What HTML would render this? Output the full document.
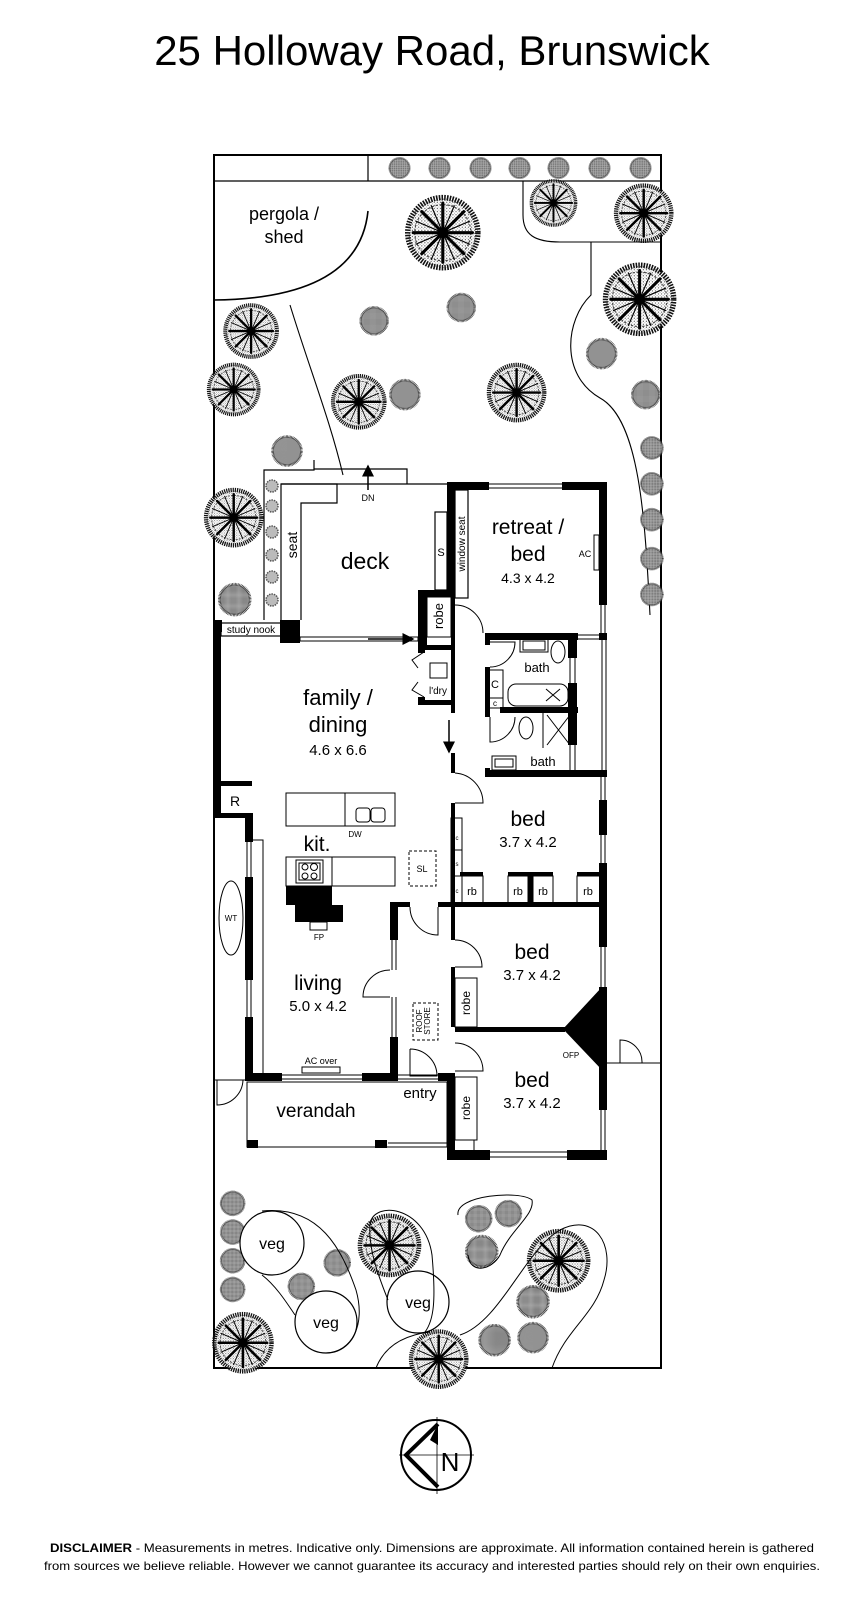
<!DOCTYPE html>
<html><head><meta charset="utf-8"><style>
html,body{margin:0;padding:0;background:#fff;}
svg{display:block;}
text{font-family:"Liberation Sans",Arial,sans-serif;fill:#000;}
</style></head><body>
<svg width="864" height="1600" viewBox="0 0 864 1600" xmlns="http://www.w3.org/2000/svg">
<defs>
<pattern id="dots" width="4" height="4" patternUnits="userSpaceOnUse"><rect width="4" height="4" fill="#fff"/><circle cx="1" cy="1" r="0.8" fill="#555"/><circle cx="3" cy="3" r="0.6" fill="#777"/></pattern>
<pattern id="dots2" width="3" height="3" patternUnits="userSpaceOnUse"><rect width="3" height="3" fill="#bbb"/><circle cx="1" cy="1" r="0.9" fill="#333"/></pattern>
<symbol id="big" viewBox="-50 -50 100 100">
<circle r="45" fill="url(#dots)" stroke="#111" stroke-width="7" stroke-dasharray="2 1.5"/>
<circle r="36" fill="none" stroke="#444" stroke-width="1.5" stroke-dasharray="3 2"/>
<g stroke="#000" stroke-width="4" stroke-linecap="round">
<line x1="0" y1="0" x2="0" y2="-38"/><line x1="0" y1="0" x2="27" y2="-27"/><line x1="0" y1="0" x2="38" y2="0"/><line x1="0" y1="0" x2="27" y2="27"/><line x1="0" y1="0" x2="0" y2="38"/><line x1="0" y1="0" x2="-27" y2="27"/><line x1="0" y1="0" x2="-38" y2="0"/><line x1="0" y1="0" x2="-27" y2="-27"/></g>
<g stroke="#000" stroke-width="1.5"><line x1="0" y1="0" x2="15" y2="-35"/><line x1="0" y1="0" x2="35" y2="15"/><line x1="0" y1="0" x2="-15" y2="35"/><line x1="0" y1="0" x2="-35" y2="-15"/><line x1="0" y1="0" x2="35" y2="-15"/><line x1="0" y1="0" x2="-35" y2="15"/><line x1="0" y1="0" x2="15" y2="35"/><line x1="0" y1="0" x2="-15" y2="-35"/></g>
<circle r="7" fill="#000"/>
</symbol>
<symbol id="sm" viewBox="-50 -50 100 100">
<circle r="44" fill="url(#dots2)" stroke="#333" stroke-width="8" stroke-dasharray="2 2"/>
</symbol>
<marker id="ah" markerWidth="8" markerHeight="8" refX="7" refY="4" orient="auto"><path d="M0,0 L8,4 L0,8 z" fill="#000"/></marker>
</defs>

<text x="432" y="65" font-size="42" text-anchor="middle">25 Holloway Road, Brunswick</text>

<!-- lot -->
<rect x="214" y="155" width="447" height="1213" fill="none" stroke="#000" stroke-width="2"/>
<line x1="214" y1="181" x2="661" y2="181" stroke="#000" stroke-width="1.2"/>
<line x1="368" y1="155" x2="368" y2="181" stroke="#000" stroke-width="1.2"/>
<path d="M368,211 C362,270 310,299 214,300" fill="none" stroke="#000" stroke-width="1.6"/>
<text x="284" y="220" font-size="18" text-anchor="middle">pergola /</text>
<text x="284" y="243" font-size="18" text-anchor="middle">shed</text>
<path d="M523,181 L523,215 C523,235 535,242 560,242 L661,242" fill="none" stroke="#000" stroke-width="1.1"/>
<path d="M591,242 L591,295 C565,320 560,375 600,398 C640,420 645,520 650,615" fill="none" stroke="#000" stroke-width="1.1"/>
<path d="M290,305 C310,370 330,420 343,475" fill="none" stroke="#000" stroke-width="1.1"/>

<!-- top row small trees -->
<g>
<use href="#sm" x="388" y="156" width="23" height="24"/><use href="#sm" x="428" y="156" width="23" height="24"/><use href="#sm" x="469" y="156" width="23" height="24"/><use href="#sm" x="508" y="156" width="23" height="24"/><use href="#sm" x="547" y="156" width="23" height="24"/><use href="#sm" x="588" y="156" width="23" height="24"/><use href="#sm" x="629" y="156" width="23" height="24"/>
</g>
<g transform="scale(1.025)">
<use href="#big" x="394" y="187" width="76" height="80"/>
<use href="#big" x="516" y="173" width="48" height="50"/>
<use href="#big" x="598" y="177" width="60" height="62"/>
<use href="#big" x="587" y="255" width="74" height="74"/>
<use href="#big" x="217" y="295" width="56" height="56"/>
<use href="#big" x="201" y="353" width="54" height="54"/>
<use href="#big" x="322" y="364" width="56" height="56"/>
<use href="#big" x="474" y="353" width="60" height="60"/>
<use href="#big" x="198" y="475" width="60" height="60"/>
<use href="#sm" x="350" y="298" width="30" height="30"/>
<use href="#sm" x="435" y="285" width="30" height="30"/>
<use href="#sm" x="379" y="369" width="32" height="32"/>
<use href="#sm" x="571" y="329" width="32" height="32"/>
<use href="#sm" x="615" y="370" width="30" height="30"/>
<use href="#sm" x="264" y="424" width="32" height="32"/>
<use href="#sm" x="212" y="568" width="34" height="34"/>
<use href="#sm" x="624" y="425" width="24" height="24"/><use href="#sm" x="624" y="460" width="24" height="24"/><use href="#sm" x="624" y="495" width="24" height="24"/><use href="#sm" x="624" y="533" width="24" height="24"/><use href="#sm" x="624" y="568" width="24" height="24"/>
<!-- bottom garden -->
<use href="#sm" x="214" y="1161" width="26" height="26"/><use href="#sm" x="214" y="1189" width="26" height="26"/><use href="#sm" x="214" y="1217" width="26" height="26"/><use href="#sm" x="214" y="1245" width="26" height="26"/>
<use href="#sm" x="315" y="1218" width="28" height="28"/><use href="#sm" x="280" y="1241" width="28" height="28"/>
<use href="#sm" x="453" y="1175" width="28" height="28"/><use href="#sm" x="482" y="1170" width="28" height="28"/><use href="#sm" x="453" y="1204" width="34" height="34"/>
<use href="#sm" x="503" y="1253" width="34" height="34"/><use href="#sm" x="466" y="1291" width="33" height="33"/><use href="#sm" x="504" y="1289" width="32" height="32"/>
<use href="#big" x="348" y="1183" width="64" height="64"/>
<use href="#big" x="513" y="1198" width="64" height="64"/>
<use href="#big" x="398" y="1295" width="60" height="62"/>
<use href="#big" x="206" y="1278" width="62" height="64"/>
</g>
<circle cx="272" cy="1243" r="32" fill="#fff" stroke="#000" stroke-width="1.2"/>
<circle cx="326" cy="1322" r="31" fill="#fff" stroke="#000" stroke-width="1.2"/>
<circle cx="418" cy="1302" r="31" fill="#fff" stroke="#000" stroke-width="1.2"/>
<text x="272" y="1249" font-size="16" text-anchor="middle">veg</text>
<text x="326" y="1328" font-size="16" text-anchor="middle">veg</text>
<text x="418" y="1308" font-size="16" text-anchor="middle">veg</text>
<g fill="none" stroke="#000" stroke-width="1">
<path d="M262,1211 C320,1205 342,1250 356,1290 C366,1325 352,1352 326,1353"/>
<path d="M262,1275 C275,1285 285,1300 295,1315"/>
<path d="M370,1225 C372,1200 425,1205 432,1255 C436,1300 434,1320 425,1332"/>
<path d="M370,1225 C368,1250 380,1280 388,1300"/>
<path d="M458,1215 C455,1195 520,1190 532,1200 C535,1215 510,1230 500,1255 C492,1270 470,1275 468,1255"/>
<path d="M460,1335 C500,1322 525,1250 560,1230 C595,1212 615,1245 604,1280 C595,1315 565,1330 552,1368"/>
<path d="M376,1368 C385,1345 405,1335 430,1332"/>
</g>

<!-- deck -->
<g fill="none" stroke="#000" stroke-width="1.2">
<path d="M264,620 L264,470 L314,470 L314,460"/>
<path d="M314,469 L407,469 L407,484"/>
<line x1="281" y1="484" x2="447" y2="484"/>
<path d="M281,620 L281,484 L337,484 L337,503 L301,503 L301,620"/>
<rect x="435" y="512" width="12" height="78"/>
<rect x="455" y="490" width="13" height="108"/>
</g>
<g fill="#bbb" stroke="#555" stroke-width="1.5" stroke-dasharray="1.5 1">
<circle cx="272" cy="486" r="6"/><circle cx="272" cy="506" r="6"/><circle cx="272" cy="532" r="6"/><circle cx="272" cy="555" r="6"/><circle cx="272" cy="577" r="6"/><circle cx="272" cy="600" r="6"/>
</g>
<line x1="368" y1="490" x2="368" y2="466" stroke="#000" stroke-width="1.5" marker-end="url(#ah)"/>
<text x="368" y="501" font-size="9" text-anchor="middle">DN</text>
<text x="365" y="569" font-size="23" text-anchor="middle">deck</text>
<text transform="translate(297,545) rotate(-90)" font-size="14" text-anchor="middle">seat</text>
<text x="441" y="556" font-size="11" text-anchor="middle">S</text>
<text transform="translate(465,544) rotate(-90)" font-size="10" text-anchor="middle">window seat</text>

<!-- walls -->
<g fill="#000">
<rect x="447" y="482" width="42" height="8"/><rect x="562" y="482" width="45" height="8"/>
<rect x="447" y="482" width="8" height="108"/>
<rect x="599" y="482" width="8" height="123"/><rect x="599" y="633" width="8" height="7"/>
<rect x="418" y="590" width="37" height="7"/><rect x="418" y="590" width="9" height="55"/>
<rect x="451" y="590" width="4" height="123"/>
<rect x="451" y="753" width="4" height="20"/><rect x="451" y="803" width="4" height="102"/>
<rect x="418" y="645" width="37" height="5"/><rect x="418" y="645" width="7" height="8"/><rect x="418" y="697" width="7" height="8"/><rect x="418" y="700" width="37" height="5"/>
<rect x="280" y="620" width="20" height="23"/><rect x="213" y="620" width="9" height="12"/>
<rect x="213" y="620" width="8" height="198"/>
<rect x="213" y="781" width="39" height="5"/>
<rect x="213" y="813" width="40" height="5"/>
<rect x="245" y="813" width="8" height="29"/><rect x="245" y="877" width="8" height="103"/><rect x="245" y="1017" width="8" height="64"/>
<rect x="245" y="1073" width="37" height="8"/><rect x="362" y="1073" width="36" height="8"/>
<rect x="390" y="902" width="8" height="38"/><rect x="390" y="1037" width="8" height="44"/>
<rect x="390" y="902" width="20" height="5"/><rect x="438" y="902" width="169" height="5"/>
<rect x="451" y="907" width="4" height="33"/><rect x="451" y="967" width="4" height="60"/>
<rect x="447" y="1073" width="8" height="87"/><rect x="438" y="1073" width="17" height="8"/>
<rect x="455" y="1027" width="110" height="5"/>
<rect x="447" y="1150" width="43" height="10"/><rect x="567" y="1150" width="40" height="10"/>
<rect x="485" y="633" width="93" height="7"/><rect x="485" y="633" width="5" height="12"/><rect x="485" y="667" width="5" height="50"/><rect x="485" y="768" width="5" height="9"/>
<rect x="485" y="770" width="122" height="7"/>
<rect x="500" y="707" width="78" height="6"/>
<rect x="568" y="633" width="9" height="25"/><rect x="568" y="683" width="9" height="62"/>
<rect x="599" y="770" width="8" height="7"/>
<rect x="599" y="800" width="8" height="35"/><rect x="599" y="863" width="8" height="84"/><rect x="599" y="987" width="8" height="123"/><rect x="599" y="1150" width="8" height="10"/>
<rect x="460" y="872" width="23" height="4"/><rect x="508" y="872" width="45" height="4"/><rect x="528" y="872" width="5" height="31"/><rect x="577" y="872" width="23" height="4"/>
<polygon points="563,1029 602,987 602,1070"/>
<rect x="286" y="886" width="46" height="19"/><rect x="295" y="905" width="48" height="17"/>
<rect x="247" y="1140" width="11" height="8"/><rect x="375" y="1140" width="12" height="8"/>
</g>
<!-- windows & thin lines -->
<g stroke="#000" stroke-width="1" fill="none">
<line x1="489" y1="484" x2="562" y2="484"/><line x1="489" y1="488" x2="562" y2="488"/>
<line x1="601" y1="605" x2="601" y2="633"/><line x1="605" y1="605" x2="605" y2="633"/>
<line x1="602" y1="640" x2="602" y2="770"/><line x1="606" y1="640" x2="606" y2="770"/>
<line x1="577" y1="635" x2="599" y2="635"/><line x1="577" y1="639" x2="599" y2="639"/>
<line x1="570" y1="658" x2="570" y2="683"/><line x1="575" y1="658" x2="575" y2="683"/>
<line x1="570" y1="745" x2="570" y2="770"/><line x1="575" y1="745" x2="575" y2="770"/>
<line x1="601" y1="777" x2="601" y2="800"/><line x1="605" y1="777" x2="605" y2="800"/>
<line x1="601" y1="835" x2="601" y2="863"/><line x1="605" y1="835" x2="605" y2="863"/>
<line x1="601" y1="947" x2="601" y2="987"/><line x1="605" y1="947" x2="605" y2="987"/>
<line x1="601" y1="1110" x2="601" y2="1150"/><line x1="605" y1="1110" x2="605" y2="1150"/>
<line x1="490" y1="1152" x2="567" y2="1152"/><line x1="490" y1="1157" x2="567" y2="1157"/>
<line x1="247" y1="842" x2="247" y2="877"/><line x1="251" y1="842" x2="251" y2="877"/>
<line x1="247" y1="980" x2="247" y2="1017"/><line x1="251" y1="980" x2="251" y2="1017"/>
<path d="M253,840 L263,840 L263,1073"/>
<line x1="282" y1="1075" x2="362" y2="1075"/><line x1="282" y1="1079" x2="362" y2="1079"/>
<line x1="392" y1="940" x2="392" y2="970"/><line x1="396" y1="940" x2="396" y2="970"/>
<line x1="392" y1="997" x2="392" y2="1037"/><line x1="396" y1="997" x2="396" y2="1037"/>
<line x1="398" y1="1075" x2="438" y2="1075"/><line x1="398" y1="1079" x2="438" y2="1079"/>
<rect x="300" y="637" width="118" height="4" fill="#fff"/>
<line x1="607" y1="1063" x2="661" y2="1063"/>
<path d="M620,1063 L620,1040 A22,22 0 0 1 642,1063"/>
<path d="M214,1080 L247,1080 M217,1080 L217,1105 A26,26 0 0 0 243,1080"/>
<rect x="247" y="1082" width="200" height="65"/>
<line x1="388" y1="1143" x2="447" y2="1143"/>
<line x1="474" y1="1140" x2="474" y2="1150"/>
<!-- doors -->
<path d="M455,605 A28,28 0 0 1 483,633"/>
<path d="M490,667 A25,25 0 0 0 515,642 L490,642"/>
<path d="M515,717 A25,25 0 0 1 490,742 L490,717"/>
<path d="M455,773 A30,30 0 0 1 483,803 L455,803"/>
<path d="M410,907 A28,28 0 0 0 438,935 L438,907"/>
<path d="M390,970 A27,27 0 0 0 363,997 L390,997"/>
<path d="M455,940 A27,27 0 0 1 482,967 L455,967"/>
<path d="M455,1043 A28,28 0 0 1 483,1071 L455,1071"/>
<path d="M410,1049 A27,27 0 0 1 437,1076 L410,1076 L410,1049"/>
<path d="M424,652 L412,660 L418,668 M424,697 L412,690 L418,682"/>
<!-- boxes -->
<rect x="221" y="623" width="60" height="13" stroke-width="1.2"/>
<rect x="427" y="597" width="24" height="40"/>
<rect x="430" y="663" width="17" height="15"/>
<rect x="594" y="535" width="5" height="35"/>
<rect x="520" y="638" width="28" height="14"/><rect x="523" y="641" width="22" height="9"/>
<ellipse cx="558" cy="652" rx="7" ry="11"/>
<rect x="488" y="670" width="15" height="28"/><rect x="488" y="698" width="15" height="10"/>
<rect x="508" y="684" width="60" height="22" rx="8"/>
<path d="M546,689 L560,701 M560,689 L546,701"/>
<ellipse cx="526" cy="728" rx="7" ry="11"/>
<path d="M547,715 L570,745 M570,715 L547,745"/><line x1="543" y1="713" x2="543" y2="748"/>
<rect x="492" y="756" width="24" height="14"/><rect x="495" y="759" width="18" height="8"/>
<rect x="451" y="818" width="11" height="32"/><rect x="451" y="850" width="11" height="26"/><rect x="451" y="876" width="11" height="27"/>
<rect x="462" y="876" width="21" height="27"/><rect x="508" y="876" width="20" height="27"/><rect x="533" y="876" width="20" height="27"/><rect x="577" y="876" width="23" height="27"/>
<rect x="286" y="793" width="109" height="33"/><line x1="345" y1="793" x2="345" y2="826"/>
<rect x="356" y="808" width="14" height="14" rx="3"/><rect x="371" y="808" width="14" height="14" rx="3"/>
<rect x="286" y="857" width="109" height="29"/><line x1="332" y1="857" x2="332" y2="886"/>
<rect x="296" y="860" width="27" height="23"/><rect x="299" y="863" width="21" height="17"/>
<circle cx="305" cy="867" r="3"/><circle cx="314" cy="867" r="3.5"/><circle cx="305" cy="876" r="3"/><circle cx="314" cy="876" r="3"/>
<rect x="310" y="922" width="17" height="8"/>
<rect x="409" y="851" width="27" height="35" stroke-dasharray="3 2"/>
<ellipse cx="231" cy="918" rx="12" ry="37"/>
<rect x="455" y="978" width="22" height="49"/>
<rect x="455" y="1077" width="22" height="63"/>
<rect x="413" y="1003" width="25" height="37" stroke-dasharray="3 2"/>
<rect x="302" y="1067" width="38" height="6"/>
<rect x="581" y="1038" width="9" height="12" transform="rotate(-40 585 1044)"/>
</g>
<line x1="368" y1="639" x2="413" y2="639" stroke="#000" stroke-width="1.5" marker-end="url(#ah)"/>
<line x1="449" y1="720" x2="449" y2="752" stroke="#000" stroke-width="1.5" marker-end="url(#ah)"/>

<!-- labels -->
<g text-anchor="middle">
<text x="251" y="633" font-size="10">study nook</text>
<text transform="translate(443,616) rotate(-90)" font-size="13">robe</text>
<text x="438" y="694" font-size="10">l'dry</text>
<text x="528" y="534" font-size="21">retreat /</text>
<text x="528" y="561" font-size="21">bed</text>
<text x="528" y="583" font-size="14">4.3 x 4.2</text>
<text x="585" y="557" font-size="9">AC</text>
<text x="537" y="672" font-size="13">bath</text>
<text x="543" y="766" font-size="13">bath</text>
<text x="495" y="688" font-size="11">C</text>
<text x="495" y="706" font-size="8">c</text>
<text x="338" y="705" font-size="22">family /</text>
<text x="338" y="732" font-size="22">dining</text>
<text x="338" y="755" font-size="15">4.6 x 6.6</text>
<text x="235" y="806" font-size="14">R</text>
<text x="355" y="837" font-size="8">DW</text>
<text x="317" y="851" font-size="21">kit.</text>
<text x="422" y="872" font-size="9">SL</text>
<text x="319" y="940" font-size="8">FP</text>
<text x="231" y="921" font-size="8">WT</text>
<text x="528" y="826" font-size="21">bed</text>
<text x="528" y="847" font-size="15">3.7 x 4.2</text>
<text x="457" y="840" font-size="6">c</text><text x="457" y="866" font-size="6">s</text><text x="457" y="893" font-size="6">c</text>
<text x="472" y="895" font-size="11">rb</text><text x="518" y="895" font-size="11">rb</text><text x="543" y="895" font-size="11">rb</text><text x="588" y="895" font-size="11">rb</text>
<text x="532" y="959" font-size="21">bed</text>
<text x="532" y="980" font-size="15">3.7 x 4.2</text>
<text transform="translate(470,1003) rotate(-90)" font-size="12">robe</text>
<text transform="translate(422,1021) rotate(-90)" font-size="8">ROOF</text>
<text transform="translate(430,1021) rotate(-90)" font-size="8">STORE</text>
<text x="571" y="1058" font-size="8">OFP</text>
<text x="532" y="1087" font-size="21">bed</text>
<text x="532" y="1108" font-size="15">3.7 x 4.2</text>
<text transform="translate(470,1108) rotate(-90)" font-size="12">robe</text>
<text x="318" y="990" font-size="21">living</text>
<text x="318" y="1011" font-size="15">5.0 x 4.2</text>
<text x="321" y="1064" font-size="9">AC over</text>
<text x="316" y="1117" font-size="19">verandah</text>
<text x="420" y="1098" font-size="15">entry</text>
</g>

<!-- compass -->
<circle cx="436" cy="1455" r="35" fill="none" stroke="#000" stroke-width="2"/>
<line x1="399" y1="1455" x2="474" y2="1455" stroke="#000" stroke-width="0.8"/>
<line x1="437" y1="1417" x2="437" y2="1494" stroke="#000" stroke-width="0.8"/>
<path d="M438,1424 L406,1455 L438,1487" fill="none" stroke="#000" stroke-width="4"/>
<polygon points="438,1424 438,1445 430,1440" fill="#000"/>
<text x="450" y="1471" font-size="26" text-anchor="middle">N</text>

<text x="432" y="1552" font-size="12" text-anchor="middle" textLength="764" lengthAdjust="spacingAndGlyphs"><tspan font-weight="bold">DISCLAIMER</tspan> - Measurements in metres. Indicative only. Dimensions are approximate. All information contained herein is gathered</text>
<text x="432" y="1570" font-size="12" text-anchor="middle" textLength="776" lengthAdjust="spacingAndGlyphs">from sources we believe reliable. However we cannot guarantee its accuracy and interested parties should rely on their own enquiries.</text>
</svg>
</body></html>
